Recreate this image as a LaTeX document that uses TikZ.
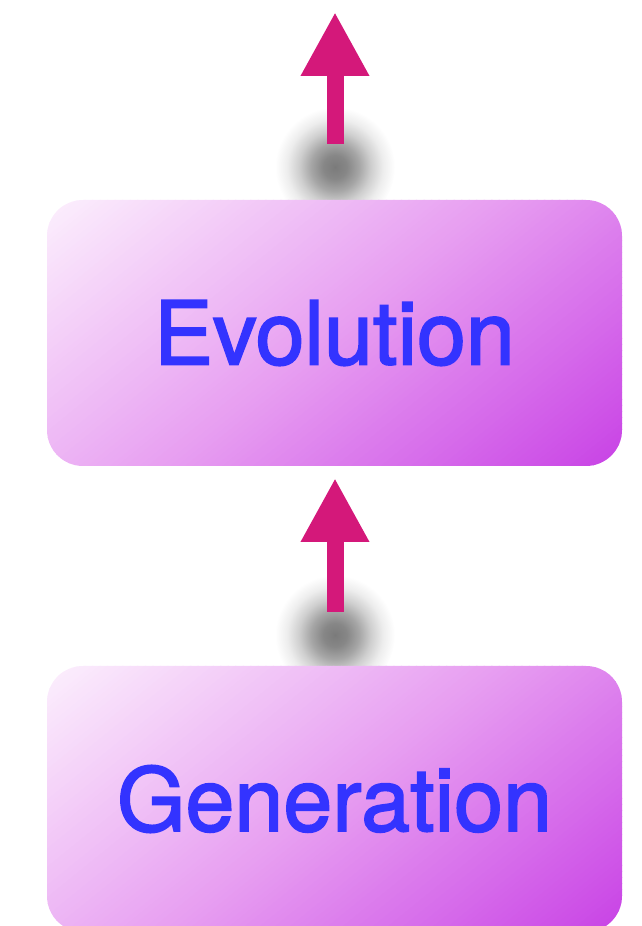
\documentclass[tikz,border=0pt]{standalone}
\usepackage{fontspec}
\setmainfont{TeX Gyre Heros}[FakeBold=2]
\usetikzlibrary{arrows.meta}
\definecolor{txtblue}{RGB}{51,51,255}
\definecolor{arrowmag}{RGB}{212,24,122}
\definecolor{boxlight}{RGB}{252,240,253}
\definecolor{boxmid}{RGB}{231,158,241}
\definecolor{boxdark}{RGB}{200,66,229}
\pgfdeclareradialshading{blob}{\pgfpoint{0bp}{0bp}}{%
  color(0bp)=(black!52); color(5bp)=(black!47); color(10bp)=(black!35);
  color(15bp)=(black!19); color(20bp)=(black!7); color(25bp)=(white); color(50bp)=(white)}
% gradient panel: #1,#2 = centre
\newcommand{\gradpanel}[2]{%
  \begin{scope}
    \clip[rounded corners=36pt] (#1-287.5,#2-133) rectangle (#1+287.5,#2+133);
    \begin{scope}[shift={(#1,#2)}, rotate=-51]
      \foreach \i in {0,...,119}{%
        \pgfmathsetmacro\xa{-284.4+\i*4.74}%
        \pgfmathsetmacro\xb{\xa+5.4}%
        \pgfmathsetmacro\t{(\i+0.5)/120}%
        \ifdim\t pt<0.5pt
          \pgfmathsetmacro\p{200*\t}%
          \fill[boxmid!\p!boxlight] (\xa,-312) rectangle (\xb,312);
        \else
          \pgfmathsetmacro\p{200*\t-100}%
          \fill[boxdark!\p!boxmid] (\xa,-312) rectangle (\xb,312);
        \fi}
    \end{scope}
  \end{scope}}
\tikzset{
  gradbox/.style={rectangle, rounded corners=36pt, minimum width=575pt, minimum height=266pt,
    inner sep=0pt, outer sep=0pt, text=txtblue, font=\fontsize{88}{100}\selectfont},
  blockarrow/.style={draw=arrowmag, line width=17pt,
    -{Triangle[width=64pt,length=64pt]}},
  shadowblob/.style={circle, minimum size=120pt, inner sep=0pt, shading=blob}
}
\begin{document}
\begin{tikzpicture}[x=1pt,y=1pt]
\useasboundingbox (0,0) rectangle (642,926);
% shadows
\node[shadowblob] (s1) at (335,759) {};
\node[shadowblob] (s2) at (335,291) {};
% box fills
\gradpanel{334.5}{593}
\gradpanel{334.5}{127}
% boxes
\node[gradbox] (evo) at (334.5,593) {Evolution};
\node[gradbox] (gen) at (334.5,127) {Generation};
\coordinate (top) at (335,914);
% arrows
\draw[blockarrow, shorten <=54pt, shorten >=12pt] ([xshift=0.5pt]gen.north) -- ([xshift=0.5pt]evo.south);
\draw[blockarrow, shorten <=56pt] ([xshift=0.5pt]evo.north) -- (top);
\end{tikzpicture}
\end{document}
